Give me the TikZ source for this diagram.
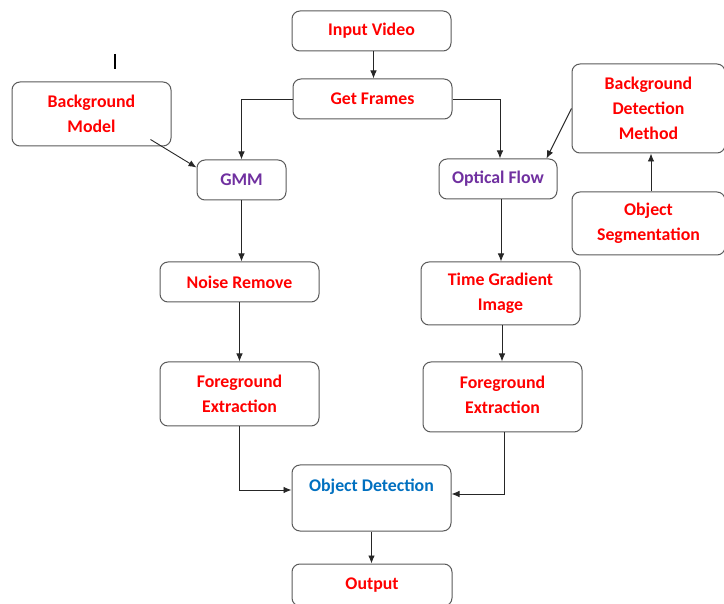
\documentclass[tikz,border=0pt]{standalone}
\usepackage{fontspec}
\setmainfont{Carlito}
\usetikzlibrary{arrows.meta}
\definecolor{txtred}{HTML}{FF0000}
\definecolor{txtpurple}{HTML}{7030A0}
\definecolor{txtblue}{HTML}{0070C0}
\definecolor{boxgray}{HTML}{5A5A5A}
\tikzset{
  box/.style={draw=boxgray, rounded corners=8pt, line width=1pt, fill=white,
    align=center, inner sep=0pt, text=txtred,
    font=\fontsize{17.8}{25}\selectfont\bfseries},
  arr/.style={-{Latex[length=8pt,width=6.5pt]}, line width=0.9pt, draw=black!85},
}
\begin{document}
\begin{tikzpicture}[x=1pt,y=-1pt]
\useasboundingbox (0,0) rectangle (724,604);
\node[box, minimum width=159pt, minimum height=40pt] (iv) at (371.5,31) {Input Video};
\node[box, minimum width=159pt, minimum height=40pt] (gf) at (372.5,99) {Get Frames};
\node[box, minimum width=159pt, minimum height=64pt] (bm) at (91.5,114) {Background\\Model};
\node[box, minimum width=89pt, minimum height=40pt, text=txtpurple] (gmm) at (241.5,180) {GMM};
\node[box, minimum width=118pt, minimum height=40pt, text=txtpurple] (of) at (498,179) {Optical Flow};
\node[box, minimum width=153pt, minimum height=89pt] (bdm) at (648.5,108.5) {Background\\Detection\\Method};
\node[box, minimum width=153pt, minimum height=63pt] (os) at (648.5,223.5) {Object\\Segmentation};
\node[box, minimum width=159pt, minimum height=40pt] (nr) at (239.5,282) {Noise Remove};
\node[box, minimum width=159pt, minimum height=63pt] (tg) at (500.5,293.5) {Time Gradient\\Image};
\node[box, minimum width=159pt, minimum height=64pt] (fel) at (239.5,394) {Foreground\\Extraction};
\node[box, minimum width=159pt, minimum height=70pt] (fer) at (502.5,397) {Foreground\\Extraction\\[-21pt]\mbox{}};
\node[box, minimum width=159pt, minimum height=66pt, text=txtblue] (od) at (371.5,498) {Object Detection\\\mbox{}};
\node[box, minimum width=160pt, minimum height=42pt] (out) at (372,585) {Output};
\coordinate (markA) at (115,54);
\coordinate (markB) at (115,69);
\draw[line width=1.4pt, black] (markA) -- (markB);
\draw[arr] ([xshift=2pt]iv.south) -- ([xshift=2pt]iv.south |- gf.north);
\draw[arr] (gf.west) -| (gmm.north);
\draw[arr] (gf.east) -| ([xshift=2pt]of.north);
\draw[arr] ([xshift=-21pt,yshift=7pt]bm.south east) -- ([yshift=-8pt]gmm.north west);
\draw[arr] (bdm.west) -- ([xshift=-11pt]of.north east);
\draw[arr] ([xshift=2.5pt]os.north) -- ([xshift=2.5pt]bdm.south);
\draw[arr] (gmm.south) -- (gmm.south |- nr.north);
\draw[arr] ([xshift=3pt]of.south) -- ([xshift=3pt]of.south |- tg.north);
\draw[arr] (nr.south) -- (fel.north);
\draw[arr] ([xshift=1.5pt]tg.south) -- ([xshift=1.5pt]tg.south |- fer.north);
\draw[arr] (fel.south) |- ([yshift=8pt]od.west);
\draw[arr] ([xshift=1.5pt]fer.south) |- ([yshift=4pt]od.east);
\draw[arr] (od.south) -- (od.south |- out.north);
\end{tikzpicture}
\end{document}
